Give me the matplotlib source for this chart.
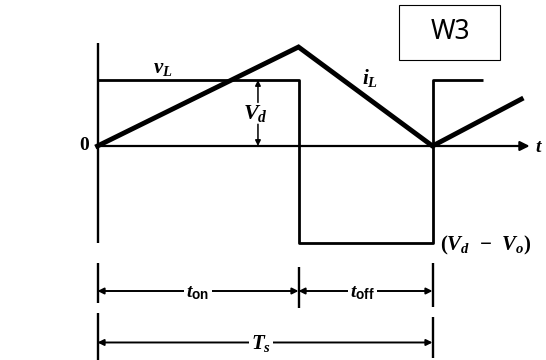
import matplotlib
matplotlib.use("Agg")
import matplotlib.pyplot as plt
from matplotlib.patches import Rectangle

# switching period split (units of Ts), voltages in units of Vd
t_on = 0.6
t_s = 1.0
t_vl = [0, t_on, t_on, t_s, t_s, 1.15]
v_vl = [1, 1, -1.47, -1.47, 1, 1]
t_il = [0, t_on, t_s, 1.265]
i_il = [0, 1.5, 0, 0.71]

plt.rcParams['mathtext.fontset'] = 'custom'
plt.rcParams['mathtext.it'] = 'Liberation Serif:italic:bold'
plt.rcParams['mathtext.rm'] = 'Liberation Serif:bold'
plt.rcParams['mathtext.sf'] = 'Liberation Sans:bold'

fig = plt.figure(figsize=(5.46, 3.6), dpi=100)
ax = fig.add_axes([0, 0, 1, 1])
ax.set_xlim(-97.5 / 335, 448.5 / 335)
ax.set_ylim(-214 / 66, 146 / 66)
ax.axis('off')

k = dict(color='black', solid_capstyle='butt')
# axes
ax.plot([0, 0], [-1.47, 1.565], lw=1.7, **k)
ax.annotate('', xy=(1.29, 0), xytext=(0, 0),
            arrowprops=dict(arrowstyle='-|>', color='black', lw=1.6,
                            mutation_scale=14, shrinkA=0, shrinkB=0))

# waveforms
ax.plot(t_vl, v_vl, lw=2.0, **k)
ax.plot(t_il, i_il, lw=3.5, color='black', solid_joinstyle='miter')

ax.text(-0.025, 0, '0', fontsize=14, fontweight='bold', family='Liberation Serif',
        ha='right', va='center')
ax.text(1.318, 0, r'$t$', fontsize=14, ha='center', va='center')
ax.text(0.196, 1.18, r'$v_L$', fontsize=15, ha='center', va='center')
ax.text(0.813, 1.03, r'$i_L$', fontsize=15, ha='center', va='center')
ax.text(0.47, 0.5, r'$V_d$', fontsize=16, ha='center', va='center')
ax.text(1.022, -1.5, r'$(V_d\;\,-\;\,V_o)$', fontsize=15, ha='left', va='center')

# Vd arrows
arr = dict(arrowstyle='-|>', color='black', lw=1.1, mutation_scale=8,
           shrinkA=0, shrinkB=0)
ax.annotate('', xy=(0.479, 1), xytext=(0.479, 0.66), arrowprops=arr)
ax.annotate('', xy=(0.479, 0), xytext=(0.479, 0.33), arrowprops=arr)

# dimension lines
ax.plot([0, 0], [-1.773, -2.38], lw=1.7, **k)
ax.plot([t_on, t_on], [-1.833, -2.455], lw=1.7, **k)
ax.plot([t_s, t_s], [-1.773, -2.44], lw=1.7, **k)
ax.plot([0, 0], [-2.53, -3.24], lw=1.7, **k)
ax.plot([t_s, t_s], [-2.59, -3.21], lw=1.7, **k)

dim = dict(arrowstyle='<|-|>', color='black', lw=1.4, mutation_scale=9,
           shrinkA=0, shrinkB=0)
ax.annotate('', xy=(0, -2.197), xytext=(t_on, -2.197), arrowprops=dim)
ax.annotate('', xy=(t_on, -2.197), xytext=(t_s, -2.197), arrowprops=dim)
ax.annotate('', xy=(0, -2.977), xytext=(t_s, -2.977), arrowprops=dim)
bb = dict(facecolor='white', edgecolor='none', pad=1.5)
ax.text(0.30, -2.22, r'$t_{\mathsf{on}}$', fontsize=14, ha='center', va='center', bbox=bb)
ax.text(0.792, -2.22, r'$t_{\mathsf{off}}$', fontsize=14, ha='center', va='center', bbox=bb)
ax.text(0.488, -3.0, r'$T_s$', fontsize=15, ha='center', va='center', bbox=bb)

# label box
ax.add_patch(Rectangle((301.5 / 335, 86 / 66), 101 / 335, 55 / 66, fill=False,
                       edgecolor='black', lw=0.8))
ax.text(352.5 / 335, 114 / 66, 'W3', fontsize=19, family='Noto Sans',
        fontweight='light', ha='center', va='center')

fig.savefig('out.png', dpi=100)
